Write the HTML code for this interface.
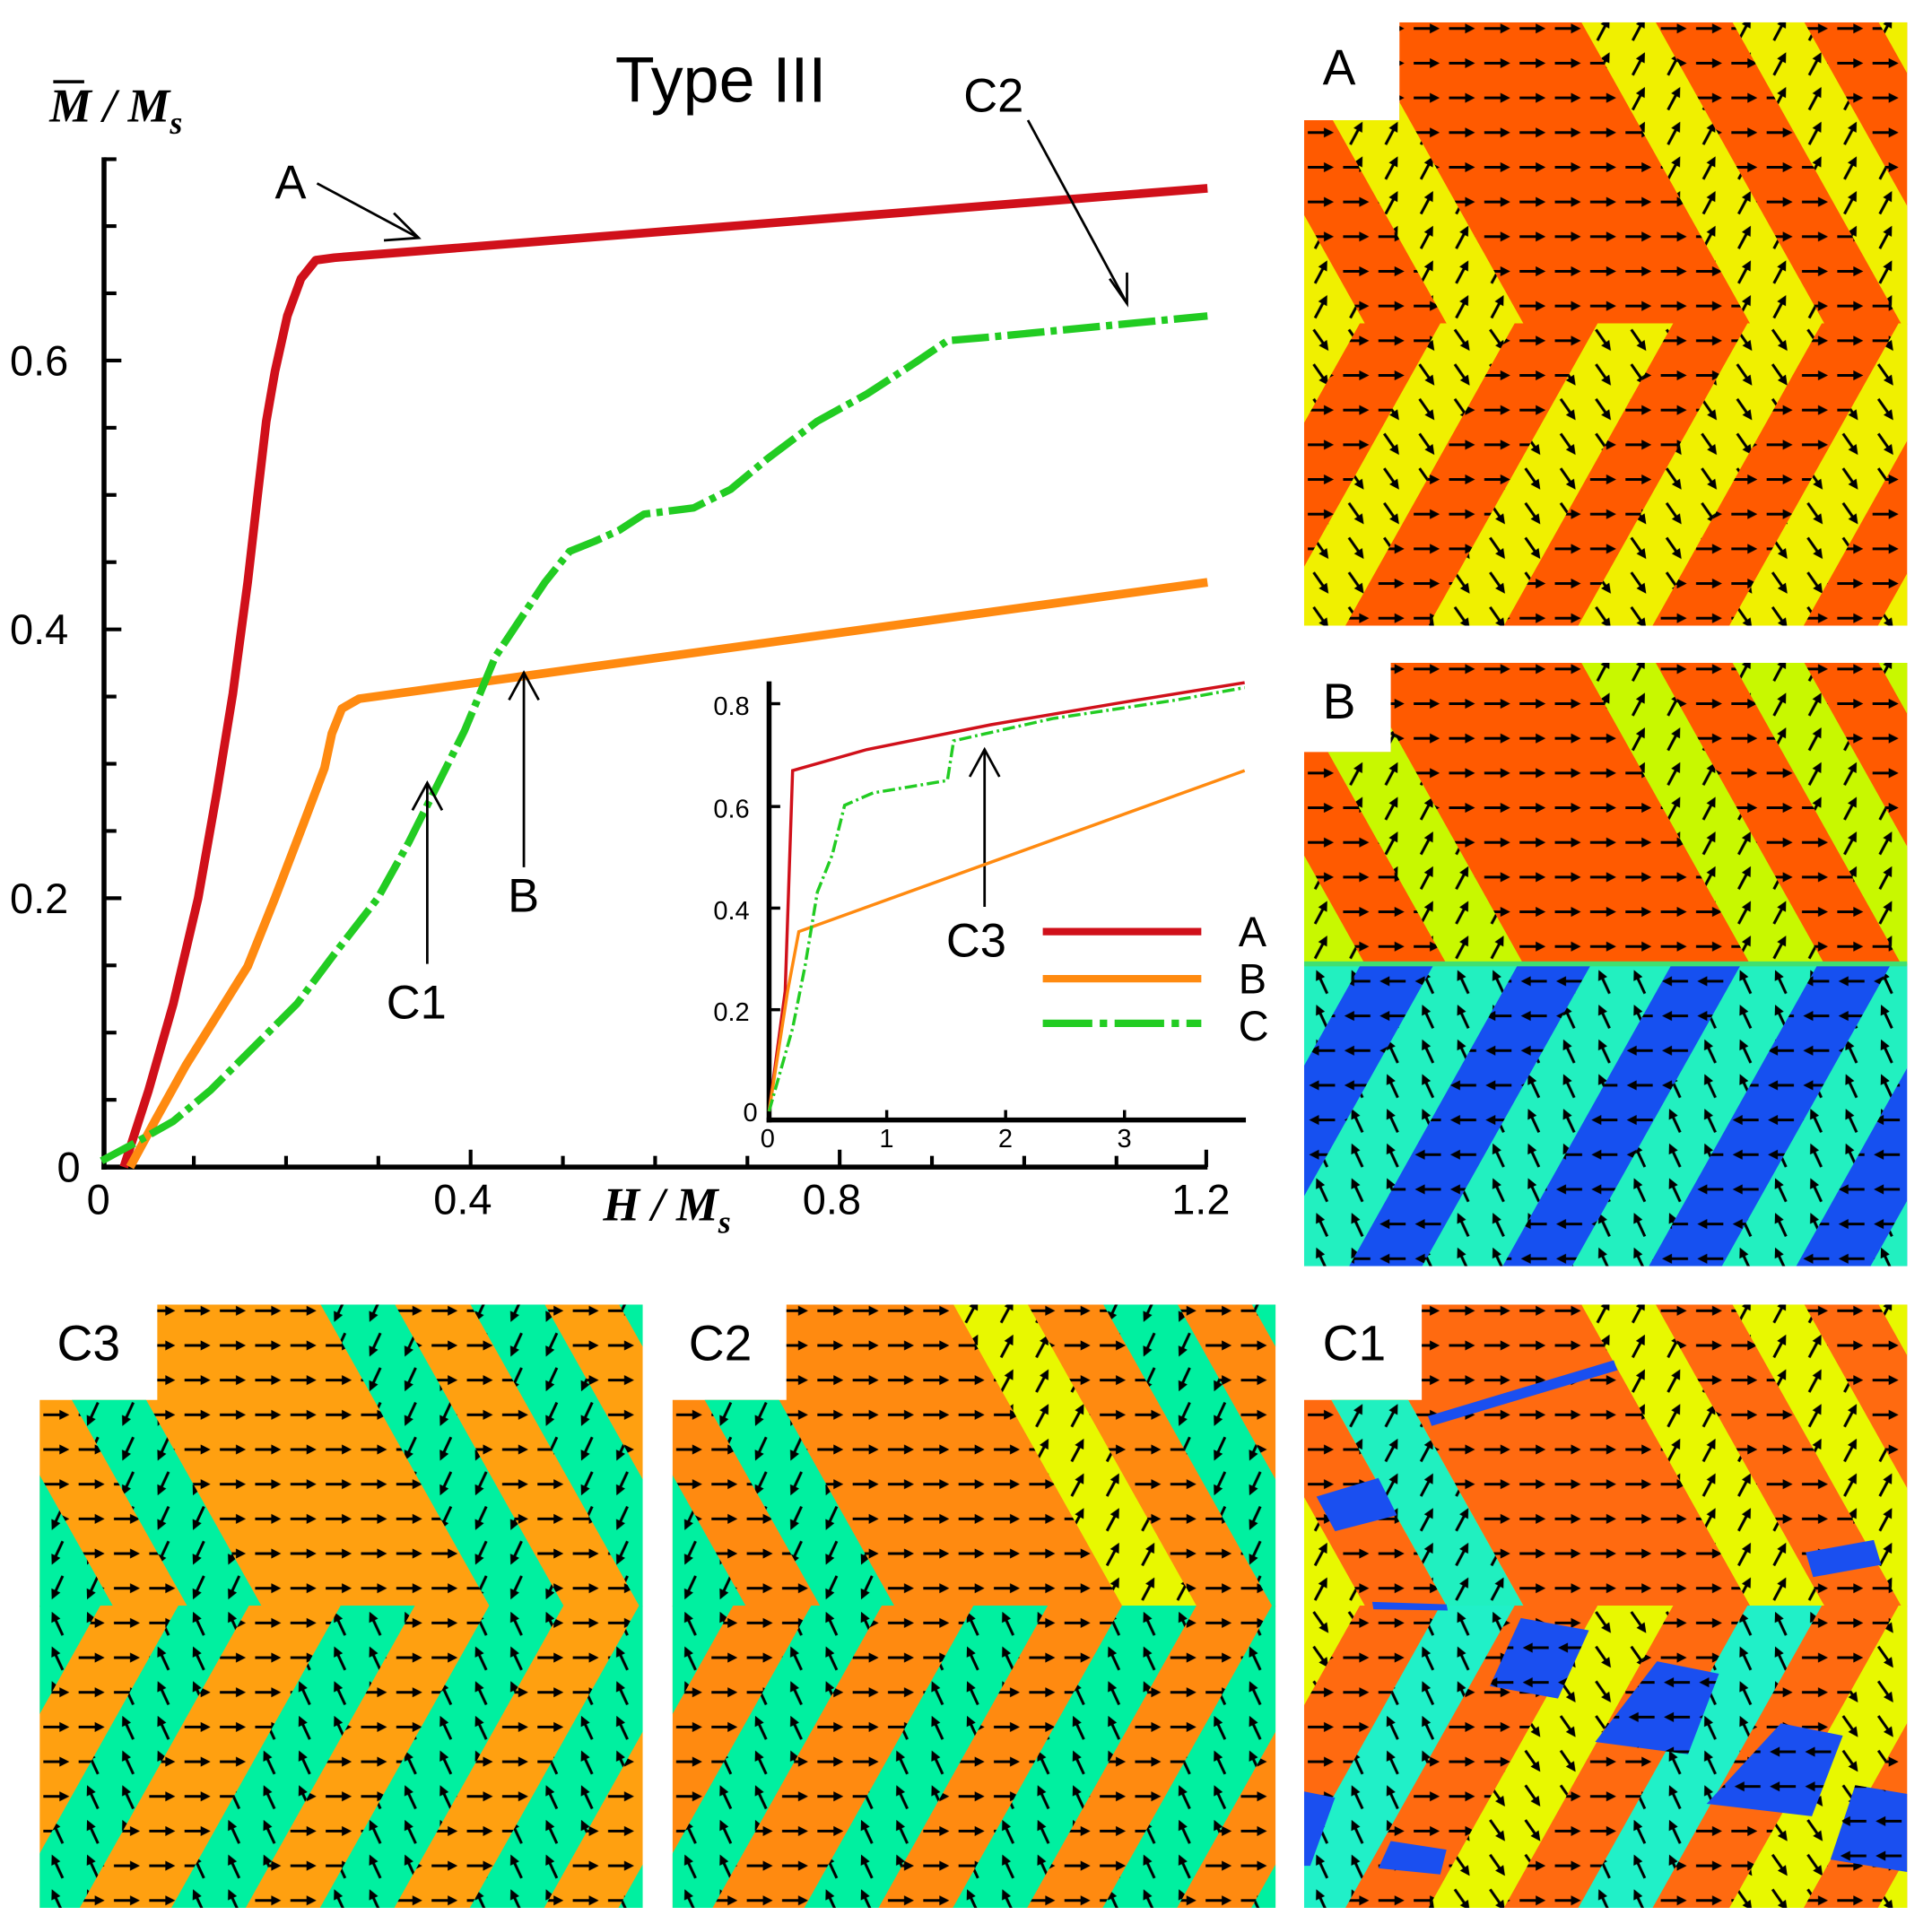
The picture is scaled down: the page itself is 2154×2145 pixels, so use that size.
<!DOCTYPE html>
<html><head><meta charset="utf-8"><style>html,body{margin:0;padding:0;background:#fff}svg{display:block}</style></head>
<body>
<svg xmlns="http://www.w3.org/2000/svg" width="2154" height="2145" viewBox="0 0 1560 1553" preserveAspectRatio="none">
<defs>
<g id="ar"><line x1="-11" y1="0" x2="5" y2="0" stroke="#000" stroke-width="2.2"/><polygon points="10,0 2,-4 2,4" fill="#000"/></g>
<pattern id="u0" patternUnits="userSpaceOnUse" width="28.5" height="28" patternTransform="skewX(-29.25)"><use href="#ar" x="14" y="14"/></pattern>
<pattern id="une" patternUnits="userSpaceOnUse" width="28.5" height="28" patternTransform="skewX(-29.25)"><use href="#ar" transform="translate(14 14) rotate(-62)"/></pattern>
<pattern id="usw" patternUnits="userSpaceOnUse" width="28.5" height="28" patternTransform="skewX(-29.25)"><use href="#ar" transform="translate(14 14) rotate(115)"/></pattern>
<pattern id="l0" patternUnits="userSpaceOnUse" width="28.5" height="28" patternTransform="skewX(29.25)"><use href="#ar" x="14" y="14"/></pattern>
<pattern id="l180" patternUnits="userSpaceOnUse" width="28.5" height="28" patternTransform="skewX(29.25)"><use href="#ar" transform="translate(14 14) rotate(180)"/></pattern>
<pattern id="lse" patternUnits="userSpaceOnUse" width="28.5" height="28" patternTransform="skewX(29.25)"><use href="#ar" transform="translate(14 14) rotate(55)"/></pattern>
<pattern id="lnw" patternUnits="userSpaceOnUse" width="28.5" height="28" patternTransform="skewX(29.25)"><use href="#ar" transform="translate(14 14) rotate(-115)"/></pattern>
<pattern id="n180" patternUnits="userSpaceOnUse" width="28.5" height="28"><use href="#ar" transform="translate(14 14) rotate(180)"/></pattern>
<clipPath id="cA"><polygon points="1130,18 1540,18 1540,505 1053,505 1053,97 1130,97"/></clipPath>
<clipPath id="cB"><polygon points="1123,535 1540,535 1540,1022 1053,1022 1053,607 1123,607"/></clipPath>
<clipPath id="cC3"><polygon points="127,1053 519,1053 519,1540 32,1540 32,1130 127,1130"/></clipPath>
<clipPath id="cC2"><polygon points="635,1053 1030,1053 1030,1540 543,1540 543,1130 635,1130"/></clipPath>
<clipPath id="cC1"><polygon points="1148,1053 1540,1053 1540,1540 1053,1540 1053,1130 1148,1130"/></clipPath>
<g id="ua"><rect x="-400" y="-244" width="449" height="245"/><rect x="115" y="-244" width="62" height="245"/><rect x="360" y="-244" width="60" height="245"/><rect x="482" y="-244" width="58" height="245"/><rect x="600" y="-244" width="60" height="245"/><rect x="720" y="-244" width="180" height="245"/></g>
<g id="la"><rect x="-400" y="0" width="445" height="245"/><rect x="110" y="0" width="60" height="245"/><rect x="237" y="0" width="61" height="245"/><rect x="358" y="0" width="60" height="245"/><rect x="480" y="0" width="60" height="245"/><rect x="600" y="0" width="60" height="245"/><rect x="720" y="0" width="180" height="245"/></g>
<g id="lb"><rect x="-400" y="0" width="446" height="245"/><rect x="105" y="0" width="68" height="245"/><rect x="232" y="0" width="65" height="245"/><rect x="353" y="0" width="62" height="245"/><rect x="474" y="0" width="60" height="245"/><rect x="594" y="0" width="60" height="245"/><rect x="714" y="0" width="186" height="245"/></g>
<g id="uc"><rect x="-400" y="-244" width="459" height="245"/><rect x="119" y="-244" width="60" height="245"/><rect x="363" y="-244" width="60" height="245"/><rect x="484" y="-244" width="60" height="245"/><rect x="604" y="-244" width="60" height="245"/><rect x="724" y="-244" width="176" height="245"/></g>
<g id="ucx"><rect x="-400" y="-244" width="459" height="245"/><rect x="119" y="-244" width="60" height="245"/><rect x="484" y="-244" width="60" height="245"/><rect x="604" y="-244" width="60" height="245"/><rect x="724" y="-244" width="176" height="245"/></g>
<g id="lc"><rect x="-400" y="0" width="449" height="245"/><rect x="112" y="0" width="57" height="245"/><rect x="243" y="0" width="60" height="245"/><rect x="363" y="0" width="60" height="245"/><rect x="484" y="0" width="60" height="245"/><rect x="604" y="0" width="60" height="245"/><rect x="724" y="0" width="176" height="245"/></g>
</defs>

<!-- Panel A -->
<g clip-path="url(#cA)">
 <g transform="translate(1053,261) skewX(29.25)">
  <rect x="-400" y="-244" width="1300" height="245" fill="#ff5a00"/><rect x="-400" y="-244" width="1300" height="245" fill="url(#u0)"/>
  <use href="#ua" fill="#f0f000"/><use href="#ua" fill="url(#une)"/>
 </g>
 <g transform="translate(1053,261) skewX(-29.25)">
  <rect x="-400" y="0" width="1300" height="245" fill="#ff5a00"/><rect x="-400" y="0" width="1300" height="245" fill="url(#l0)"/>
  <use href="#la" fill="#f0f000"/><use href="#la" fill="url(#lse)"/>
 </g>
</g>

<!-- Panel B -->
<g clip-path="url(#cB)">
 <g transform="translate(1053,778) skewX(29.25)">
  <rect x="-400" y="-244" width="1300" height="245" fill="#ff5a00"/><rect x="-400" y="-244" width="1300" height="245" fill="url(#u0)"/>
  <use href="#ua" fill="#c8f800"/><use href="#ua" fill="url(#une)"/>
 </g>
 <g transform="translate(1053,778) skewX(-29.25)">
  <rect x="-400" y="0" width="1300" height="245" fill="#1650f0"/><rect x="-400" y="0" width="1300" height="245" fill="url(#l180)"/>
  <use href="#lb" fill="#22f0c0"/><use href="#lb" fill="url(#lnw)"/>
 </g>
 <rect x="1053" y="776" width="487" height="4" fill="#40e070"/>
</g>

<!-- Panel C3 -->
<g clip-path="url(#cC3)">
 <g transform="translate(32,1296) skewX(29.25)">
  <rect x="-400" y="-244" width="1300" height="245" fill="#ffa010"/><rect x="-400" y="-244" width="1300" height="245" fill="url(#u0)"/>
  <use href="#uc" fill="#00f0a0"/><use href="#uc" fill="url(#usw)"/>
 </g>
 <g transform="translate(32,1296) skewX(-29.25)">
  <rect x="-400" y="0" width="1300" height="245" fill="#ffa010"/><rect x="-400" y="0" width="1300" height="245" fill="url(#l0)"/>
  <use href="#lc" fill="#00f0a0"/><use href="#lc" fill="url(#lnw)"/>
 </g>
</g>

<!-- Panel C2 -->
<g clip-path="url(#cC2)">
 <g transform="translate(543,1296) skewX(29.25)">
  <rect x="-400" y="-244" width="1300" height="245" fill="#ff8a10"/><rect x="-400" y="-244" width="1300" height="245" fill="url(#u0)"/>
  <use href="#ucx" fill="#00f0a0"/><use href="#ucx" fill="url(#usw)"/>
  <rect x="363" y="-244" width="60" height="245" fill="#e8f800"/>
  <rect x="363" y="-244" width="60" height="245" fill="url(#une)"/>
 </g>
 <g transform="translate(543,1296) skewX(-29.25)">
  <rect x="-400" y="0" width="1300" height="245" fill="#ff8a10"/><rect x="-400" y="0" width="1300" height="245" fill="url(#l0)"/>
  <use href="#lc" fill="#00f0a0"/><use href="#lc" fill="url(#lnw)"/>
 </g>
</g>

<!-- Panel C1 -->
<g clip-path="url(#cC1)">
 <g transform="translate(1053,1296) skewX(29.25)">
  <rect x="-400" y="-244" width="1300" height="245" fill="#ff6a10"/><rect x="-400" y="-244" width="1300" height="245" fill="url(#u0)"/>
  <use href="#ua" fill="#e8f800"/>
  <rect x="115" y="-244" width="62" height="245" fill="#20f0c0"/>
  <rect x="-400" y="-244" width="440" height="120" fill="#20f0c0"/>
  <use href="#ua" fill="url(#une)"/>
 </g>
 <g transform="translate(1053,1296) skewX(-29.25)">
  <rect x="-400" y="0" width="1300" height="245" fill="#ff6a10"/><rect x="-400" y="0" width="1300" height="245" fill="url(#l0)"/>
  <g fill="#e8f800"><rect x="-400" y="0" width="445" height="245"/><rect x="237" y="0" width="61" height="245"/><rect x="480" y="0" width="60" height="245"/><rect x="600" y="0" width="300" height="245"/></g>
  <g fill="#20f0c8"><rect x="110" y="0" width="60" height="245"/><rect x="358" y="0" width="60" height="245"/><rect x="-400" y="130" width="445" height="115"/></g>
  <g fill="url(#lse)"><rect x="-400" y="0" width="445" height="245"/><rect x="237" y="0" width="61" height="245"/><rect x="480" y="0" width="60" height="245"/><rect x="600" y="0" width="300" height="245"/></g>
  <g fill="url(#lnw)"><rect x="110" y="0" width="60" height="245"/><rect x="358" y="0" width="60" height="245"/></g>
 </g>
 <g fill="#1a4ff0">
  <polygon points="1153,1143 1303,1098 1306,1106 1156,1151"/>
  <polygon points="1063,1208 1113,1193 1128,1223 1078,1236"/>
  <polygon points="1108,1293 1168,1295 1169,1300 1109,1299"/>
  <polygon points="1458,1253 1513,1243 1519,1263 1464,1273"/>
  <polygon points="1228,1306 1283,1316 1258,1371 1203,1361"/>
  <polygon points="1338,1341 1388,1351 1363,1416 1288,1406"/>
  <polygon points="1438,1391 1488,1401 1463,1466 1378,1456"/>
  <polygon points="1498,1441 1540,1448 1540,1511 1478,1501"/>
  <polygon points="1053,1446 1078,1451 1058,1506 1053,1506"/>
  <polygon points="1123,1486 1168,1493 1163,1513 1113,1508"/>
 </g>
 <g fill="url(#n180)">
  <polygon points="1228,1306 1283,1316 1258,1371 1203,1361"/>
  <polygon points="1338,1341 1388,1351 1363,1416 1288,1406"/>
  <polygon points="1438,1391 1488,1401 1463,1466 1378,1456"/>
  <polygon points="1498,1441 1540,1448 1540,1511 1478,1501"/>
 </g>
</g>

<g font-family="Liberation Sans, sans-serif" font-size="40" fill="#000">
<text x="1068" y="68">A</text><text x="1068" y="580">B</text><text x="46" y="1098">C3</text><text x="556" y="1098">C2</text><text x="1068" y="1098">C1</text>
</g>

<!-- main chart -->
<g font-family="Liberation Sans, sans-serif" fill="#000">
<text x="582" y="82" font-size="52" text-anchor="middle">Type III</text>
<text x="40" y="98" font-family="Liberation Serif, serif" font-weight="bold" font-style="italic" font-size="38">M / M<tspan font-size="26" dy="10">s</tspan></text>
<text x="487" y="985" font-family="Liberation Serif, serif" font-weight="bold" font-style="italic" font-size="38">H / M<tspan font-size="26" dy="10">s</tspan></text>
<g font-size="34">
<text x="8" y="303">0.6</text><text x="8" y="520">0.4</text><text x="8" y="737">0.2</text><text x="46" y="954">0</text>
<text x="70" y="980">0</text><text x="350" y="980">0.4</text><text x="648" y="980">0.8</text><text x="946" y="980">1.2</text>
</g>
</g>
<line x1="43" y1="66" x2="68" y2="66" stroke="#000" stroke-width="2.5"/>
<g stroke="#000" stroke-width="4" fill="none">
<line x1="84" y1="127" x2="84" y2="944"/><line x1="82" y1="942" x2="975" y2="942"/>
</g>
<g stroke="#000" stroke-width="3">
<line x1="84" y1="942" x2="98" y2="942"/><line x1="84" y1="887.75" x2="94" y2="887.75"/><line x1="84" y1="833.5" x2="94" y2="833.5"/><line x1="84" y1="779.25" x2="94" y2="779.25"/><line x1="84" y1="725" x2="98" y2="725"/><line x1="84" y1="670.75" x2="94" y2="670.75"/><line x1="84" y1="616.5" x2="94" y2="616.5"/><line x1="84" y1="562.25" x2="94" y2="562.25"/><line x1="84" y1="508" x2="98" y2="508"/><line x1="84" y1="453.75" x2="94" y2="453.75"/><line x1="84" y1="399.5" x2="94" y2="399.5"/><line x1="84" y1="345.25" x2="94" y2="345.25"/><line x1="84" y1="291" x2="98" y2="291"/><line x1="84" y1="236.75" x2="94" y2="236.75"/><line x1="84" y1="182.5" x2="94" y2="182.5"/><line x1="84" y1="128.5" x2="94" y2="128.5"/>
<line x1="156.5" y1="942" x2="156.5" y2="933"/><line x1="231" y1="942" x2="231" y2="933"/><line x1="305.5" y1="942" x2="305.5" y2="933"/><line x1="380" y1="942" x2="380" y2="928"/><line x1="454.5" y1="942" x2="454.5" y2="933"/><line x1="529" y1="942" x2="529" y2="933"/><line x1="603.5" y1="942" x2="603.5" y2="933"/><line x1="678" y1="942" x2="678" y2="928"/><line x1="752.5" y1="942" x2="752.5" y2="933"/><line x1="827" y1="942" x2="827" y2="933"/><line x1="901.5" y1="942" x2="901.5" y2="933"/><line x1="974" y1="942" x2="974" y2="928"/>
</g>

<g fill="none" stroke-linejoin="round" stroke-linecap="butt">
<polyline stroke="#d0101a" stroke-width="7" points="100,942 120,880 140,810 160,725 175,640 188,560 200,470 208,400 215,340 222,300 232,255 243,225 255,210 270,208 975,152"/>
<polyline stroke="#ff8a10" stroke-width="7" points="105,942 125,905 150,860 175,820 200,780 222,725 245,665 262,620 268,592 276,572 290,564 975,470"/>
<polyline stroke="#22cc22" stroke-width="6" stroke-dasharray="30 5 5 5" points="82,937 110,922 140,905 170,880 200,850 240,810 270,770 305,725 330,680 350,640 375,590 400,530 420,500 440,470 460,445 480,437 500,428 520,415 560,410 590,395 620,370 660,340 700,318 740,292 765,275 800,272 975,255"/>
</g>

<g font-family="Liberation Sans, sans-serif" font-size="38" fill="#000">
<text x="222" y="160">A</text><text x="778" y="90">C2</text><text x="410" y="736">B</text><text x="312" y="822">C1</text><text x="764" y="772">C3</text>
</g>
<g stroke="#000" stroke-width="2" fill="none">
<line x1="256" y1="148" x2="338" y2="192"/><polyline points="318,172 338,192 310,194"/>
<line x1="830" y1="97" x2="910" y2="245"/><polyline points="896,225 910,245 910,220"/>
<line x1="423" y1="700" x2="423" y2="543"/><polyline points="411,565 423,543 435,565"/>
<line x1="345" y1="778" x2="345" y2="632"/><polyline points="333,654 345,632 357,654"/>
<line x1="795" y1="732" x2="795" y2="605"/><polyline points="783,627 795,605 807,627"/>
</g>

<!-- inset -->
<g stroke="#000" stroke-width="4" fill="none">
<line x1="621" y1="550" x2="621" y2="906"/><line x1="619" y1="904" x2="1006" y2="904"/>
</g>
<g stroke="#000" stroke-width="2.5">
<line x1="621" y1="568" x2="630" y2="568"/><line x1="621" y1="651" x2="630" y2="651"/><line x1="621" y1="733" x2="630" y2="733"/><line x1="621" y1="815" x2="630" y2="815"/>
<line x1="716" y1="904" x2="716" y2="896"/><line x1="812" y1="904" x2="812" y2="896"/><line x1="908" y1="904" x2="908" y2="896"/>
</g>
<g font-family="Liberation Sans, sans-serif" font-size="21" fill="#000">
<text x="576" y="577">0.8</text><text x="576" y="660">0.6</text><text x="576" y="742">0.4</text><text x="576" y="824">0.2</text><text x="600" y="905">0</text>
<text x="614" y="926">0</text><text x="710" y="926">1</text><text x="806" y="926">2</text><text x="902" y="926">3</text>
</g>
<g fill="none" stroke-width="2.5">
<polyline stroke="#d0101a" points="621,897 634,800 640,622 700,605 800,585 900,568 1005,551"/>
<polyline stroke="#ff8a10" points="621,897 636,800 645,752 1005,622"/>
<polyline stroke="#22cc22" stroke-dasharray="10 3 2 3" points="621,897 640,830 650,780 660,720 672,690 682,650 705,640 765,630 770,598 850,580 950,565 1005,555"/>
</g>
<g stroke-width="6">
<line x1="842" y1="752" x2="970" y2="752" stroke="#d0101a"/>
<line x1="842" y1="790" x2="970" y2="790" stroke="#ff8a10"/>
<line x1="842" y1="826" x2="970" y2="826" stroke="#22cc22" stroke-dasharray="40 6 6 6"/>
</g>
<g font-family="Liberation Sans, sans-serif" font-size="34" fill="#000">
<text x="1000" y="764">A</text><text x="1000" y="802">B</text><text x="1000" y="840">C</text>
</g>
</svg>
</body></html>
